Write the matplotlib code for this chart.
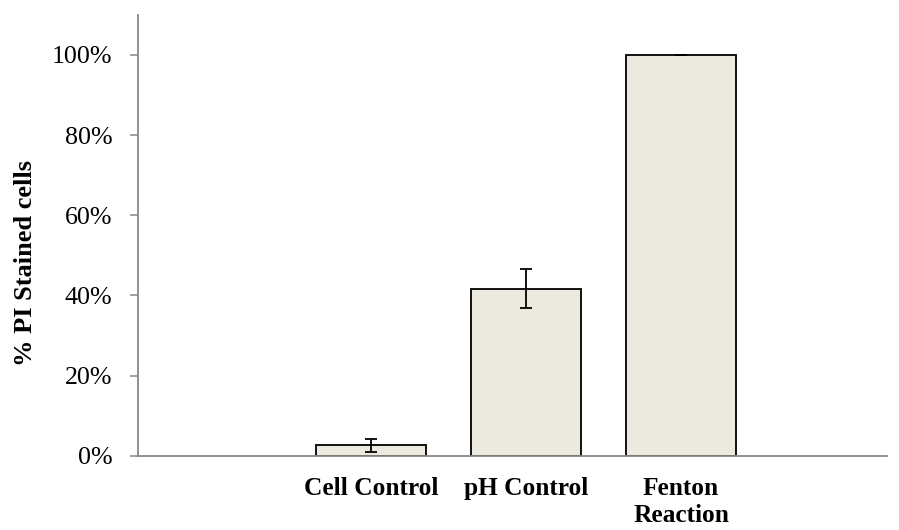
import matplotlib.pyplot as plt
import numpy as np
from matplotlib.ticker import PercentFormatter

# % of cells stained with propidium iodide per treatment
categories = ["Cell Control", "pH Control", "Fenton\nReaction"]
stained_pct = [2.6, 41.7, 100.0]
stained_err = [1.7, 4.8, 0.0]

plt.rcParams['font.family'] = ['Liberation Serif', 'DejaVu Serif']

fig = plt.figure(figsize=(8.99, 5.30), dpi=100)
ax = fig.add_axes([0.153, 0.140, 0.834, 0.832])

x = np.arange(len(categories))
ax.bar(x, stained_pct, width=0.71, color='#ECEADF', edgecolor='black', linewidth=1.3,
       yerr=stained_err, capsize=4.5,
       error_kw=dict(ecolor='black', elinewidth=1.3, capthick=1.3))

ax.set_xlim(-1.505, 3.33)
ax.set_ylim(0, 110)
ax.set_yticks(np.arange(0, 101, 20))
ax.yaxis.set_major_formatter(PercentFormatter(decimals=0))

ax.set_xticks(x)
ax.set_xticklabels(categories, fontsize=18.3, fontweight='bold', va='top',
                   linespacing=1.25)
ax.tick_params(axis='x', length=0, pad=15)
ax.tick_params(axis='y', direction='out', length=6, width=1.1, color='#888888',
               labelsize=18.7, pad=12)

for side in ('top', 'right'):
    ax.spines[side].set_visible(False)
for side in ('left', 'bottom'):
    ax.spines[side].set_color('#888888')
    ax.spines[side].set_linewidth(1.3)

ax.set_ylabel("% PI Stained cells", fontsize=19, fontweight='bold')
ax.yaxis.set_label_coords(-0.134, 0.438)

fig.savefig("out.png", dpi=100)
